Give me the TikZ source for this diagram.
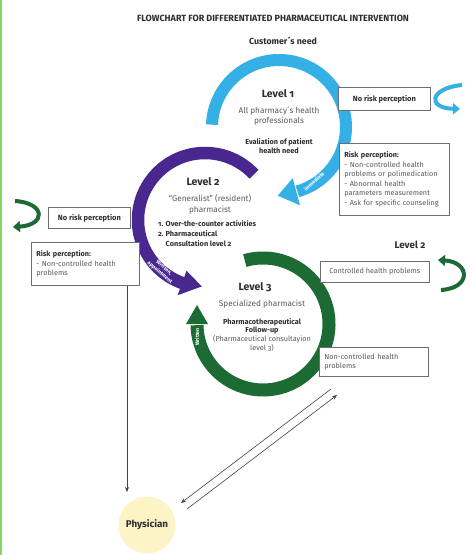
\documentclass[tikz,border=0pt]{standalone}
\usepackage{fontspec}
\setmainfont{Fira Sans}[Numbers=OldStyle]
\usetikzlibrary{arrows.meta,calc}
\definecolor{cblue}{HTML}{35B0E6}
\definecolor{cpurple}{HTML}{48278F}
\definecolor{cgreen}{HTML}{1C6B35}
\definecolor{cyel}{HTML}{FCF4C6}
\definecolor{ctext}{HTML}{2E2E2E}
\definecolor{cgray}{HTML}{5A5A5A}
\definecolor{cbox}{HTML}{6E6E6E}
\definecolor{cline}{HTML}{8CD36A}
\definecolor{carrow}{HTML}{444444}
\begin{document}
\begin{tikzpicture}[x=1pt,y=1pt,
  sidebox/.style={draw=cbox, line width=0.8pt, fill=white, inner xsep=5pt, inner ysep=2pt,
    font=\fontsize{7.3}{9.6}\selectfont, text=cgray, anchor=north west},
  boldtxt/.style={text=ctext, font=\bfseries\fontsize{7.3}{9}\selectfont, align=center, inner sep=0pt},
  graytxt/.style={text=cgray, font=\fontsize{8.2}{10.2}\selectfont, align=center, inner sep=0pt},
  leveltxt/.style={text=ctext, font=\bfseries\fontsize{10.5}{12}\selectfont, inner sep=0pt},
  arctxt/.style={text=white, font=\bfseries\fontsize{5.2}{6.4}\selectfont, align=center, inner sep=0pt},
  thin arrow/.style={draw=carrow, line width=0.6pt, -{Stealth[length=5pt,width=4pt]}},
  swoosh/.style={line width=4pt, -{Triangle[length=7pt,width=11pt]}}
]
\useasboundingbox (0,0) rectangle (471,-555);
\fill[white] (0,0) rectangle (471,-555);
\fill[cline] (0,0) rectangle (2,-555);

% title
\node[text=ctext, font=\bfseries\fontsize{9}{10}\selectfont, inner sep=0pt] (title) at (273,-18)
  {FLOWCHART FOR DIFFERENTIATED PHARMACEUTICAL INTERVENTION};
\node[text=ctext, font=\bfseries\fontsize{8.8}{10}\selectfont, inner sep=0pt] (cust) at (283,-41) {Customer´s need};

% ring centres
\coordinate (C1) at (279,-127);
\coordinate (C2) at (205,-220);
\coordinate (C3) at (263,-324);

% blue ring (level 1)
\draw[cblue, line width=12pt] ($(C1)+(178:67)$) arc[start angle=178, end angle=-74, radius=67];
\fill[cblue] ($(C1)+(-75:53)$) -- ($(C1)+(-75:81)$) -- ($(C1)+(-75:67)+(192:19)$) -- cycle;

% purple ring (level 2)
\draw[cpurple, line width=12.5pt] ($(C2)+(43:67)$) arc[start angle=43, end angle=251, radius=67];
\fill[cpurple] ($(C2)+(250:54)$) -- ($(C2)+(250:80)$) -- ($(C2)+(250:67)+(350:20)$) -- cycle;

% green ring (level 3)
\draw[cgreen, line width=13pt] ($(C3)+(106:66)$) arc[start angle=106, end angle=-179, radius=66];
\fill[cgreen] ($(C3)+(180:55)$) -- ($(C3)+(180:77)$) -- ($(C3)+(180:66)+(90:19)$) -- cycle;

% texts on rings
\node[arctxt, rotate=42] (oral) at (312,-179) {Oral,\\immediate};
\node[arctxt, rotate=-40] (writ1) at (162,-270) {Written,\\appointment};
\node[arctxt, rotate=90] (writ2) at (197,-337) {Written};

% level 1 content
\node[leveltxt] (l1) at (278,-94) {Level 1};
\node[graytxt] (l1b) at (279,-116) {All pharmacy´s health\\professionals};
\node[boldtxt] (l1c) at (279,-146.5) {Evaliation of patient\\health need};

% level 2 content
\node[leveltxt] (l2) at (203,-182) {Level 2};
\node[graytxt, font=\fontsize{8.2}{11}\selectfont] (l2b) at (210,-204.5) {“Generalist” (resident)\\pharmacist};
\node[anchor=north west, inner sep=0pt, text=ctext, font=\bfseries\fontsize{7.3}{9.6}\selectfont] (l2c) at (158,-220)
  {\begin{tabular}{@{}l@{\hspace{2pt}}l@{}}1. & Over-the-counter activities\\2. & Pharmaceutical\\ & Consultation level 2\end{tabular}};

% level 3 content
\node[leveltxt] (l3) at (255,-287) {Level 3};
\node[graytxt] (l3b) at (262,-304) {Specialized pharmacist};
\node[graytxt, font=\fontsize{7.3}{8.9}\selectfont] (l3c) at (262,-335)
  {{\bfseries\color{ctext}Pharmacotherapeutical}\\{\bfseries\color{ctext}Follow-up}\\(Pharmaceutical consultayion\\level 3)};

% right side (level 1 outcomes)
\node[sidebox, minimum width=92, minimum height=23, align=center, font=\bfseries\fontsize{7.5}{8}\selectfont, text=ctext] (nr1) at (338,-87) {No risk perception};
\node[sidebox, minimum width=110, minimum height=72, text width=100, align=left] (rp1) at (339,-143)
  {{\bfseries\color{ctext}Risk perception:}\\- Non-controlled health\\problems or polimedication\\- Abnormal health\\parameters measurement\\- Ask for specific counseling};
\draw[cblue, swoosh] (462,-85) .. controls (430,-88) and (426,-108) .. (460,-109);

% left side (level 2 outcomes)
\node[sidebox, minimum width=82, minimum height=21, align=center, font=\bfseries\fontsize{7.5}{8}\selectfont, text=ctext] (nr2) at (48,-207) {No risk perception};
\node[sidebox, minimum width=108, minimum height=43, text width=98, align=left] (rp2) at (31,-242)
  {{\bfseries\color{ctext}Risk perception:}\\- Non-controlled health\\problems};
\draw[cgreen, swoosh] (15,-201) .. controls (46,-203) and (46,-225) .. (13,-227);

% right side (level 3 outcomes)
\node[leveltxt, font=\bfseries\fontsize{9.8}{11}\selectfont] (l2r) at (410,-245) {Level 2};
\node[sidebox, minimum width=109, minimum height=21, align=left] (ctrl) at (320,-261) {Controlled health problems};
\draw[cgreen, swoosh] (441,-290) .. controls (472,-288) and (470,-262) .. (438,-260);
\node[sidebox, minimum width=109, minimum height=29, text width=99, align=left] (nctrl) at (319,-347)
  {Non-controlled health\\problems};

% physician
\node[circle, fill=cyel, minimum size=57, inner sep=0pt, text=ctext, font=\bfseries\fontsize{9.8}{10}\selectfont] (phys) at (147,-525) {Physician};

% connectors
\coordinate (vtop) at (rp2.south -| 127,0);
\coordinate (vbot) at (127,-492);
\draw[thin arrow] (vtop) -- (vbot);
\coordinate (d1a) at (331,-389);
\coordinate (d1b) at (181,-503);
\coordinate (d2a) at (187,-509);
\coordinate (d2b) at (337,-395);
\draw[thin arrow] (d1a) -- (d1b);
\draw[thin arrow] (d2a) -- (d2b);
\end{tikzpicture}
\end{document}
